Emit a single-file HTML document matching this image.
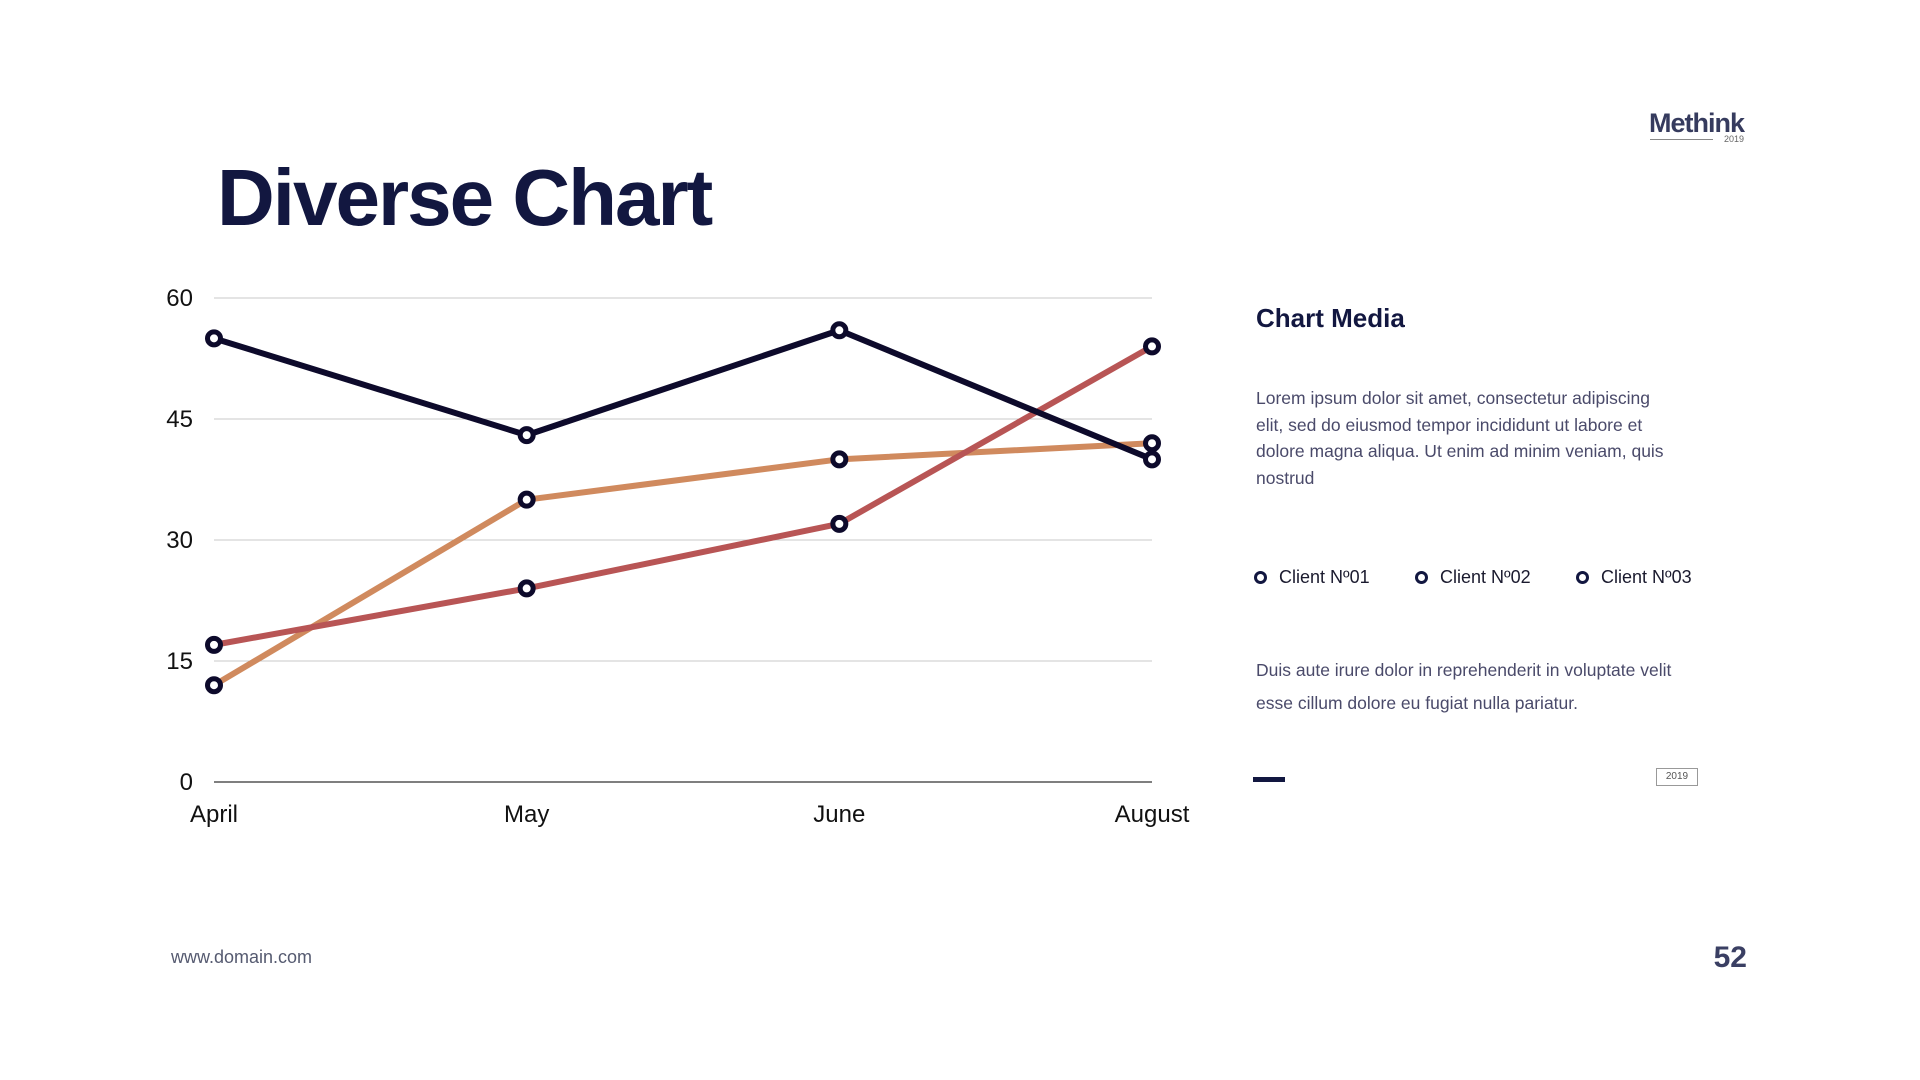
<!DOCTYPE html>
<html><head><meta charset="utf-8"><style>
body{margin:0;width:1920px;height:1080px;background:#fff;font-family:"Liberation Sans",sans-serif;position:relative;overflow:hidden}
.abs{position:absolute}
</style></head><body>
<div class="abs" style="left:1649px;top:108px;font-size:27px;font-weight:bold;color:#363b5e;letter-spacing:-1px">Methink</div>
<div class="abs" style="left:1650px;top:139px;width:63px;height:1px;background:#888"></div>
<div class="abs" style="left:1724px;top:134px;font-size:9px;color:#666">2019</div>
<div class="abs" style="left:217px;top:152px;font-size:80px;font-weight:bold;color:#121740;letter-spacing:-2px">Diverse Chart</div>

<svg class="abs" style="left:0;top:0" width="1920" height="1080" id="chart"></svg>

<div class="abs" style="left:1256px;top:303px;font-size:26px;font-weight:bold;color:#121740">Chart Media</div>
<div class="abs" style="left:1256px;top:385px;width:418px;font-size:17.5px;line-height:26.5px;color:#4a4a6a">Lorem ipsum dolor sit amet, consectetur adipiscing elit, sed do eiusmod tempor incididunt ut labore et dolore magna aliqua. Ut enim ad minim veniam, quis nostrud</div>
<div class="abs" style="left:0;top:0" id="legend"></div>
<div class="abs" style="left:1256px;top:654px;width:440px;font-size:17.5px;line-height:33px;color:#4a4a6a">Duis aute irure dolor in reprehenderit in voluptate velit esse cillum dolore eu fugiat nulla pariatur.</div>
<div class="abs" style="left:1253px;top:777px;width:32px;height:5px;background:#121740"></div>
<div class="abs" style="left:1656px;top:768px;width:40px;height:16px;border:1px solid #999;font-size:10px;color:#555;text-align:center;line-height:16px">2019</div>
<div class="abs" style="left:171px;top:947px;font-size:18px;color:#555a70">www.domain.com</div>
<div class="abs" style="left:1700px;top:941px;width:47px;text-align:right;font-size:30px;font-weight:bold;color:#3a3f63">52</div>

<script>
const categories=["April","May","June","August"];
const yTicks=[0,15,30,45,60];
const client1=[55,43,56,40];
const client2=[12,35,40,42];
const client3=[17,24,32,54];
const seriesNames=["Client Nº01","Client Nº02","Client Nº03"];
const NS="http://www.w3.org/2000/svg";
const svg=document.getElementById('chart');
const x0=214,x1=1152,yb=782,yt=298;
const xs=i=>x0+i*(x1-x0)/(categories.length-1);
const ys=v=>yb-v/60*(yb-yt);
function mk(t,a){const e=document.createElementNS(NS,t);for(const k in a)e.setAttribute(k,a[k]);svg.appendChild(e);return e;}
yTicks.forEach(v=>{
 const l=mk('line',{x1:x0,x2:x1,y1:ys(v),y2:ys(v),stroke:v===0?'#555':'#c8c8c8','stroke-width':v===0?1.5:1});
 
 
 const t=mk('text',{x:193,y:ys(v)+8,'text-anchor':'end','font-size':24,fill:'#111','font-family':'Liberation Sans'});
 t.textContent=v;
 
 
});
categories.forEach((c,i)=>{
 const t=mk('text',{x:xs(i),y:822,'text-anchor':'middle','font-size':24,fill:'#111','font-family':'Liberation Sans'});
 t.textContent=c;
 
 
});
const series=[[client2,'#d08a5e'],[client3,'#b85555'],[client1,'#0d0a2b']];
series.forEach(([d,col],si)=>{
 const p=mk('polyline',{points:d.map((v,i)=>xs(i)+','+ys(v)).join(' '),fill:'none',stroke:col,'stroke-width':6,'stroke-linejoin':'round'});
 
 
});
series.forEach(([d,col])=>{
 d.forEach((v,i)=>{
  const c=mk('circle',{cx:xs(i),cy:ys(v),r:6.5,fill:'#fff',stroke:'#0d0a2b','stroke-width':5});
  
  
 });
});
const lg=document.getElementById('legend');
seriesNames.forEach((n,i)=>{
 const e=document.createElement('div');
 
 
 e.style.cssText='position:absolute;left:'+(1254+i*161)+'px;top:567px;font-size:18px;color:#1a1a2e;white-space:nowrap';
 e.innerHTML='<span style="display:inline-block;width:7px;height:7px;border:3.5px solid #121740;border-radius:50%;vertical-align:-1px;margin-right:12px"></span>'+n;
 lg.appendChild(e);
});
</script>
</body></html>
